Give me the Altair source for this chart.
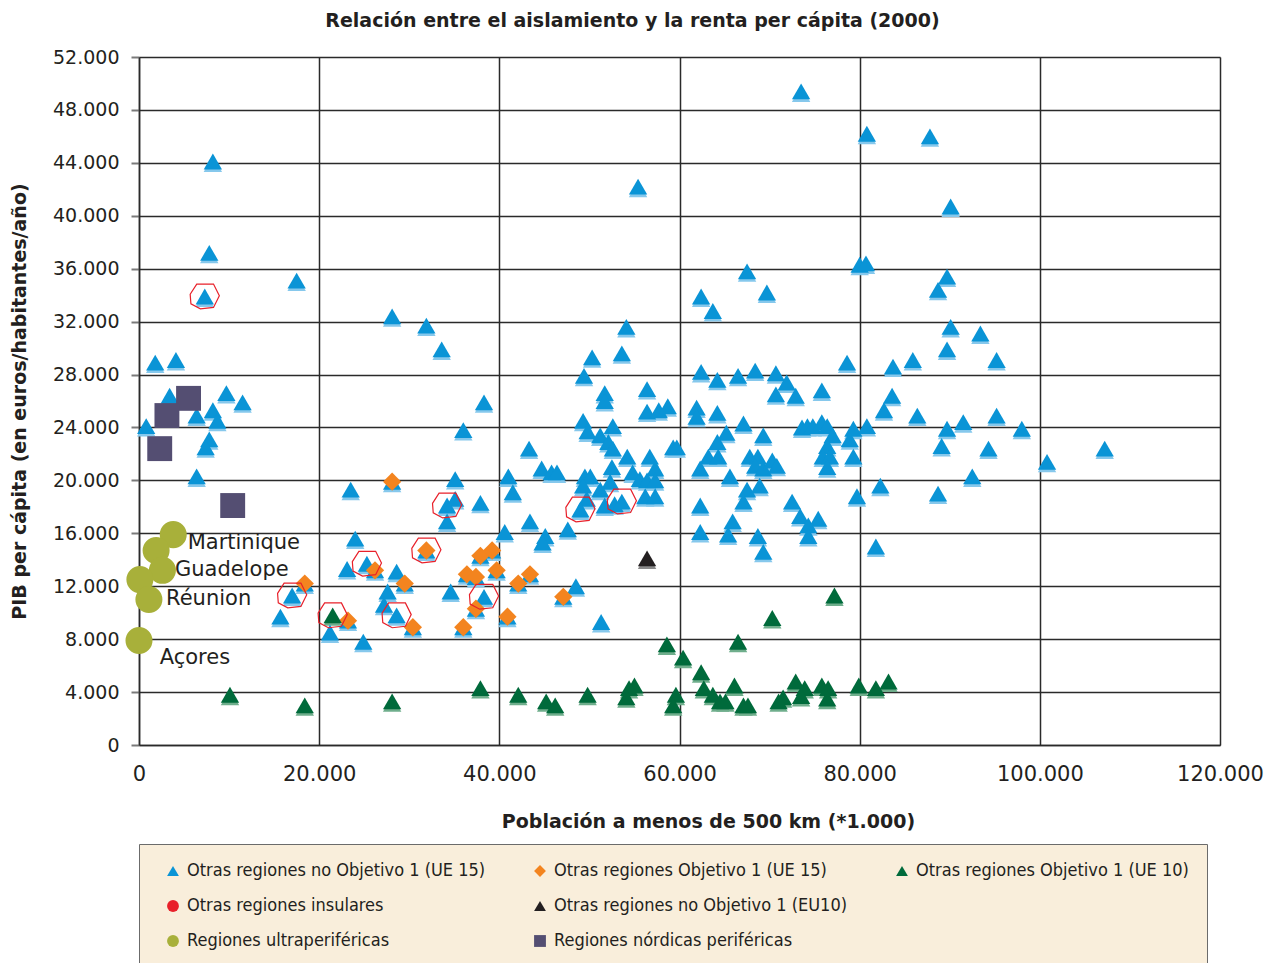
import altair as alt
import pandas as pd

# ---------------- data ----------------
# Otras regiones no Objetivo 1 (UE 15)
blue_x = [8200, 7800, 7300, 17500, 28100, 31900, 33600, 1800, 4100, 38300,
          3400, 9700, 11500, 6400, 8200, 8700, 800, 7800, 7400, 6400,
          36000, 23500, 35100, 34200, 35100, 37900, 34200, 40600, 24000, 23100,
          25300, 28600, 17000, 27600, 34600, 38300, 27200, 28600, 15700, 21200,
          24900, 67500, 62400, 69700, 63700, 78600, 80000, 80700, 54100, 50300,
          53600, 49400, 56400, 51700, 51700, 56400, 57700, 58700, 62400, 64200,
          68400, 66500, 70700, 71900, 70700, 72900, 75800, 61900, 61900, 64200,
          67100, 65200, 64200, 69300, 63200, 64300, 62300, 65600, 67800, 68700,
          68400, 69300, 70300, 70800, 67500, 68900, 67100, 72500, 73400, 74300,
          75400, 74300, 62300, 62300, 65400, 65900, 68700, 69300, 73600, 74200,
          74800, 75800, 76400, 77000, 76400, 78900, 79300, 75900, 76700, 76400,
          79300, 79700, 43300, 44700, 45800, 46400, 41000, 41500, 43400, 45100,
          44800, 47600, 49300, 49800, 51200, 52600, 52100, 52600, 54200, 56700,
          59300, 59700, 49500, 50100, 52500, 54800, 55600, 57300, 56400, 57300,
          49300, 52300, 51200, 49700, 49000, 51700, 52800, 53600, 56200, 57300,
          55400, 73500, 80800, 87800, 90100, 89700, 88700, 90100, 93400, 89700,
          95200, 83700, 85900, 83600, 82700, 86400, 95200, 89700, 91500, 98000,
          80800, 89100, 94300, 107200, 100800, 92500, 82300, 88700, 81800, 48500,
          51300]
blue_y = [44100, 37200, 33900, 35100, 32400, 31700, 29900, 28900, 29100, 25900,
          26400, 26600, 25900, 24900, 25300, 24500, 24100, 23100, 22500, 20300,
          23800, 19300, 20100, 18100, 18600, 18300, 16900, 16100, 15600, 13300,
          13700, 13100, 11300, 11600, 11600, 11200, 10600, 9800, 9700, 8500,
          7800, 35800, 33900, 34200, 32800, 28900, 36300, 36400, 31600, 29300,
          29600, 27900, 26900, 26600, 26000, 25200, 25300, 25600, 28200, 27600,
          28300, 27900, 28100, 27400, 26500, 26400, 26800, 25500, 24800, 25100,
          24300, 23600, 22900, 23400, 21800, 21800, 20900, 20300, 21800, 21800,
          21100, 20900, 21500, 21100, 19300, 19600, 18400, 18400, 17300, 16600,
          17100, 15800, 18100, 16100, 15900, 16900, 15800, 14600, 24000, 24100,
          24100, 24400, 24100, 23400, 22600, 23100, 23900, 21800, 21800, 21000,
          21800, 18800, 22400, 20900, 20600, 20600, 20300, 19100, 16900, 15800,
          15300, 16300, 24500, 23700, 23400, 24100, 22900, 22400, 21800, 21800,
          22500, 22500, 20300, 20300, 21000, 20600, 20100, 20900, 20000, 20000,
          19600, 19900, 19300, 18600, 17800, 18100, 18200, 18400, 18800, 18800,
          42200, 49400, 46200, 46000, 40700, 35400, 34400, 31600, 31100, 29900,
          29100, 28600, 29100, 26400, 25300, 24900, 24900, 23900, 24400, 23900,
          24100, 22600, 22400, 22400, 21400, 20300, 19600, 19000, 15000, 12000,
          9300]

# Otras regiones Objetivo 1 (UE 15)
orange_x = [28100, 31900, 37900, 39200, 26200, 36400, 37400, 39700, 18400,
            29500, 37400, 40900, 23200, 30400, 36000, 43400, 42100, 47100]
orange_y = [19900, 14700, 14300, 14700, 13200, 12900, 12700, 13200, 12200,
            12200, 10300, 9700, 9400, 8900, 8900, 12900, 12200, 11200]

# Otras regiones Objetivo 1 (UE 10)
green_x = [10100, 18400, 28100, 37900, 21500, 77200, 70300, 66500, 58600, 60400,
           62400, 66100, 62700, 63700, 64500, 65100, 67100, 67600, 59600, 59300,
           55000, 54400, 54100, 49800, 45200, 46200, 42100, 72900, 73900, 71500,
           71000, 73500, 75800, 76500, 76400, 79900, 81800, 83200]
green_y = [3800, 3000, 3300, 4300, 9800, 11300, 9600, 7800, 7600, 6600,
           5500, 4500, 4300, 3800, 3300, 3300, 3000, 3000, 3800, 3000,
           4500, 4300, 3600, 3800, 3300, 3000, 3800, 4800, 4300, 3600,
           3300, 3700, 4500, 4300, 3500, 4500, 4300, 4800]

# Otras regiones no Objetivo 1 (EU10)
black_x = [56400]
black_y = [14100]

# Regiones ultraperiféricas
ultra_x = [3800, 1900, 2600, 100, 1100, 0]
ultra_y = [15900, 14700, 13200, 12500, 11000, 7900]

# Regiones nórdicas periféricas
nordic_x = [5500, 3100, 2300, 10400]
nordic_y = [26200, 24900, 22400, 18100]

# Otras regiones insulares (outlined)
insular_x = [7300, 34200, 25300, 17000, 38300, 28600, 49000, 53600, 31900, 21500]
insular_y = [33900, 18100, 13700, 11300, 11200, 9800, 17800, 18400, 14700, 9800]

# Labels of the outermost regions
label_text = ["Martinique", "Guadelope", "Réunion", "Açores"]
label_x = [5400, 4000, 3000, 2300]
label_y = [15300, 13200, 11000, 6600]

x_ticks = [0, 20000, 40000, 60000, 80000, 100000, 120000]
y_ticks = [0, 4000, 8000, 12000, 16000, 20000, 24000, 28000, 32000, 36000,
           40000, 44000, 48000, 52000]

CAT_A = "Otras regiones no Objetivo 1 (UE 15)"
CAT_B = "Otras regiones Objetivo 1 (UE 15)"
CAT_C = "Otras regiones Objetivo 1 (UE 10)"
CAT_D = "Otras regiones insulares"
CAT_E = "Otras regiones no Objetivo 1 (EU10)"
CAT_BLANK = " "
CAT_F = "Regiones ultraperiféricas"
CAT_G = "Regiones nórdicas periféricas"

categories = [CAT_A, CAT_B, CAT_C, CAT_D, CAT_E, CAT_BLANK, CAT_F, CAT_G]
cat_colors = ["#0a94d6", "#f3841f", "#006a3b", "#e8202a", "#231f20",
              "transparent", "#a8b03a", "#544e72"]
cat_shapes = ["triangle-up", "diamond", "triangle-up", "circle", "triangle-up",
              "circle", "circle", "square"]

# ---------------- tables ----------------
def table(xs, ys, cat):
    return pd.DataFrame({"x": xs, "y": ys, "cat": cat})

points = pd.concat([
    table(blue_x, blue_y, CAT_A),
    table(orange_x, orange_y, CAT_A),   # the blue marker under each orange one
    table(orange_x, orange_y, CAT_B),
    table(green_x, green_y, CAT_C),
    table(black_x, black_y, CAT_E),
], ignore_index=True)
ultra = table(ultra_x, ultra_y, CAT_F)
nordic = table(nordic_x, nordic_y, CAT_G)

blue_shadow = pd.concat([table(blue_x, blue_y, CAT_A),
                         table(orange_x, orange_y, CAT_A)], ignore_index=True)
green_shadow = table(green_x, green_y, CAT_C)
black_shadow = table(black_x, black_y, CAT_E)
insular = pd.DataFrame({"x": insular_x, "y": insular_y})
labels = pd.DataFrame({"x": label_x, "y": label_y, "label": label_text})

# ---------------- encodings ----------------
FONT = "DejaVu Sans"
GRID = "#2a2a2a"
INK = "#231f20"
LABEL_EXPR = "replace(format(datum.value, ',d'), ',', '.')"

X = alt.X("x:Q", scale=alt.Scale(domain=[0, 120000], nice=False, zero=True),
          axis=alt.Axis(values=x_ticks, title="Población a menos de 500 km (*1.000)",
                        labelExpr=LABEL_EXPR, labelFont=FONT, labelColor=INK,
                        labelFontSize=21, labelPadding=18, ticks=False, tickSize=0,
                        labelFlush=False,
                        grid=True, gridColor=GRID, gridWidth=1.5, gridOpacity=1,
                        domain=True, domainColor=GRID, domainWidth=1.5,
                        titleFont=FONT, titleColor=INK,
                        titleFontSize=19, titleFontWeight="bold", titlePadding=28,
                        titleX=569))
Y = alt.Y("y:Q", scale=alt.Scale(domain=[0, 52000], nice=False),
          axis=alt.Axis(values=y_ticks, title="PIB per cápita (en euros/habitantes/año)",
                        labelExpr=LABEL_EXPR, labelFont=FONT, labelColor=INK,
                        labelFontSize=19, labelPadding=12, ticks=True, tickSize=8,
                        tickColor="#7a7a7a", tickWidth=2,
                        grid=True, gridColor=GRID, gridWidth=1.5, gridOpacity=1,
                        domain=True, domainColor=GRID, domainWidth=1.5,
                        titleFont=FONT, titleColor=INK,
                        titleFontSize=19, titleFontWeight="bold", titlePadding=23))

legend = alt.Legend(orient="none", legendX=0, legendY=787, columns=3,
                    direction="horizontal", title=None,
                    fillColor="#f9eedb", strokeColor="#6b6b6b", padding=18,
                    labelFont="DejaVu Sans Condensed", labelFontSize=18,
                    labelColor=INK, labelLimit=500, labelOffset=5,
                    symbolSize=140, symbolStrokeWidth=0, symbolOffset=7,
                    columnPadding=38, rowPadding=17)

color_scale = alt.Scale(domain=categories, range=cat_colors)
shape_scale = alt.Scale(domain=categories, range=cat_shapes)
COLOR = alt.Color("cat:N", scale=color_scale, legend=legend)
SHAPE = alt.Shape("cat:N", scale=shape_scale, legend=legend)

shadow_b = alt.Chart(blue_shadow).mark_point(
    shape="triangle-up", filled=True, size=340, yOffset=2.5, color="#86c8ec",
    opacity=1).encode(x=X, y=Y)
shadow_g = alt.Chart(green_shadow).mark_point(
    shape="triangle-up", filled=True, size=340, yOffset=2.5, color="#6fae8c",
    opacity=1).encode(x=X, y=Y)
shadow_k = alt.Chart(black_shadow).mark_point(
    shape="triangle-up", filled=True, size=340, yOffset=2.5, color="#8a8a8a",
    opacity=1).encode(x=X, y=Y)

main = alt.Chart(points).mark_point(
    filled=True, opacity=1, strokeWidth=0, size=335
).encode(x=X, y=Y, color=COLOR, shape=SHAPE)

ultra_layer = alt.Chart(ultra).mark_point(
    filled=True, opacity=1, strokeWidth=0, size=730
).encode(x=X, y=Y, color=COLOR, shape=SHAPE)

nordic_layer = alt.Chart(nordic).mark_point(
    filled=True, opacity=1, strokeWidth=0, size=620
).encode(x=X, y=Y, color=COLOR, shape=SHAPE)

hexagon = "M-1,-0.15 L-0.55,-0.85 L0.6,-0.85 L1,-0.05 L0.6,0.75 L-0.3,0.85 L-0.95,0.5 Z"
insular_layer = alt.Chart(insular).mark_point(
    shape=hexagon, filled=False, size=850, color="#e8202a", strokeWidth=1.2,
    opacity=1).encode(x=X, y=Y)

text_layer = alt.Chart(labels).mark_text(
    align="left", baseline="middle", font=FONT, fontSize=21, color=INK
).encode(x=X, y=Y, text="label:N")

chart = alt.layer(
    shadow_b, shadow_g, shadow_k, main, ultra_layer, nordic_layer,
    insular_layer, text_layer
).properties(
    width=1081, height=688,
    padding={"left": 2, "top": 4, "right": 0, "bottom": 5},
    title=alt.TitleParams(
        "Relación entre el aislamiento y la renta per cápita (2000)",
        font=FONT, fontSize=19, fontWeight="bold", color=INK,
        anchor="middle", dx=-47, offset=17),
).configure_view(
    fill="#dbe2e8", stroke=None
).configure(background="white")

chart.save("out.html", embed_options={"renderer": "svg", "actions": False})
